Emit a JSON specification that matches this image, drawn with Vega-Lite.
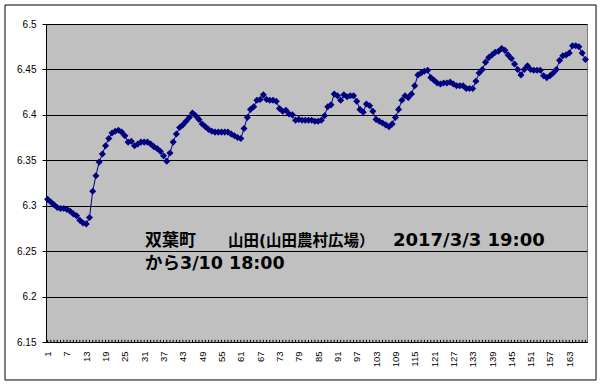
{
  "$schema": "https://vega.github.io/schema/vega-lite/v6.json",
  "width": 541,
  "height": 318,
  "autosize": {"type": "none"},
  "padding": {"left": 46, "top": 24, "right": 16, "bottom": 45},
  "background": "white",
  "config": {
    "view": {"fill": "#c0c0c0", "stroke": "#808080", "strokeWidth": 1},
    "axis": {"labelOverlap": false, "labelSeparation": 0, "labelBound": false}
  },
  "data": {"values": [
    {"i":1,"v":6.307},{"i":2,"v":6.304},{"i":3,"v":6.301},{"i":4,"v":6.298},{"i":5,"v":6.297},{"i":6,"v":6.297},{"i":7,"v":6.296},{"i":8,"v":6.294},{"i":9,"v":6.291},{"i":10,"v":6.289},
    {"i":11,"v":6.284},{"i":12,"v":6.281},{"i":13,"v":6.280},{"i":14,"v":6.287},{"i":15,"v":6.316},{"i":16,"v":6.333},{"i":17,"v":6.348},{"i":18,"v":6.357},{"i":19,"v":6.366},{"i":20,"v":6.374},
    {"i":21,"v":6.380},{"i":22,"v":6.382},{"i":23,"v":6.383},{"i":24,"v":6.381},{"i":25,"v":6.377},{"i":26,"v":6.370},{"i":27,"v":6.371},{"i":28,"v":6.366},{"i":29,"v":6.368},{"i":30,"v":6.370},
    {"i":31,"v":6.370},{"i":32,"v":6.370},{"i":33,"v":6.368},{"i":34,"v":6.365},{"i":35,"v":6.363},{"i":36,"v":6.360},{"i":37,"v":6.355},{"i":38,"v":6.349},{"i":39,"v":6.358},{"i":40,"v":6.370},
    {"i":41,"v":6.379},{"i":42,"v":6.386},{"i":43,"v":6.389},{"i":44,"v":6.393},{"i":45,"v":6.397},{"i":46,"v":6.402},{"i":47,"v":6.399},{"i":48,"v":6.395},{"i":49,"v":6.390},{"i":50,"v":6.387},
    {"i":51,"v":6.384},{"i":52,"v":6.382},{"i":53,"v":6.381},{"i":54,"v":6.381},{"i":55,"v":6.381},{"i":56,"v":6.381},{"i":57,"v":6.381},{"i":58,"v":6.379},{"i":59,"v":6.377},{"i":60,"v":6.375},
    {"i":61,"v":6.374},{"i":62,"v":6.385},{"i":63,"v":6.397},{"i":64,"v":6.406},{"i":65,"v":6.409},{"i":66,"v":6.416},{"i":67,"v":6.417},{"i":68,"v":6.422},{"i":69,"v":6.417},{"i":70,"v":6.416},
    {"i":71,"v":6.416},{"i":72,"v":6.415},{"i":73,"v":6.407},{"i":74,"v":6.404},{"i":75,"v":6.405},{"i":76,"v":6.401},{"i":77,"v":6.400},{"i":78,"v":6.394},{"i":79,"v":6.395},{"i":80,"v":6.394},
    {"i":81,"v":6.394},{"i":82,"v":6.394},{"i":83,"v":6.394},{"i":84,"v":6.393},{"i":85,"v":6.393},{"i":86,"v":6.394},{"i":87,"v":6.399},{"i":88,"v":6.409},{"i":89,"v":6.411},{"i":90,"v":6.423},
    {"i":91,"v":6.421},{"i":92,"v":6.416},{"i":93,"v":6.422},{"i":94,"v":6.420},{"i":95,"v":6.421},{"i":96,"v":6.421},{"i":97,"v":6.415},{"i":98,"v":6.406},{"i":99,"v":6.403},{"i":100,"v":6.412},
    {"i":101,"v":6.410},{"i":102,"v":6.404},{"i":103,"v":6.395},{"i":104,"v":6.393},{"i":105,"v":6.391},{"i":106,"v":6.389},{"i":107,"v":6.387},{"i":108,"v":6.390},{"i":109,"v":6.397},{"i":110,"v":6.406},
    {"i":111,"v":6.416},{"i":112,"v":6.421},{"i":113,"v":6.419},{"i":114,"v":6.423},{"i":115,"v":6.432},{"i":116,"v":6.444},{"i":117,"v":6.446},{"i":118,"v":6.448},{"i":119,"v":6.449},{"i":120,"v":6.441},
    {"i":121,"v":6.438},{"i":122,"v":6.435},{"i":123,"v":6.434},{"i":124,"v":6.435},{"i":125,"v":6.435},{"i":126,"v":6.436},{"i":127,"v":6.434},{"i":128,"v":6.432},{"i":129,"v":6.432},{"i":130,"v":6.432},
    {"i":131,"v":6.429},{"i":132,"v":6.429},{"i":133,"v":6.429},{"i":134,"v":6.437},{"i":135,"v":6.446},{"i":136,"v":6.450},{"i":137,"v":6.458},{"i":138,"v":6.463},{"i":139,"v":6.466},{"i":140,"v":6.469},
    {"i":141,"v":6.470},{"i":142,"v":6.473},{"i":143,"v":6.471},{"i":144,"v":6.466},{"i":145,"v":6.462},{"i":146,"v":6.456},{"i":147,"v":6.450},{"i":148,"v":6.444},{"i":149,"v":6.450},{"i":150,"v":6.454},
    {"i":151,"v":6.450},{"i":152,"v":6.449},{"i":153,"v":6.449},{"i":154,"v":6.449},{"i":155,"v":6.443},{"i":156,"v":6.441},{"i":157,"v":6.443},{"i":158,"v":6.446},{"i":159,"v":6.450},{"i":160,"v":6.460},
    {"i":161,"v":6.465},{"i":162,"v":6.466},{"i":163,"v":6.468},{"i":164,"v":6.476},{"i":165,"v":6.476},{"i":166,"v":6.475},{"i":167,"v":6.468},{"i":168,"v":6.461}
  ]},
  "layer": [
    {
      "data": {"values": [{}]},
      "mark": {"type": "rect", "fill": null, "filled": false, "stroke": "black", "strokeWidth": 1, "clip": false},
      "encoding": {
        "x": {"datum": -12.23, "type": "quantitative"},
        "x2": {"datum": 171.3},
        "y": {"datum": 6.5209, "type": "quantitative"},
        "y2": {"datum": 6.1082}
      }
    },
    {
      "mark": {"type": "line", "color": "#000080", "strokeWidth": 1},
      "encoding": {
        "x": {
          "field": "i", "type": "quantitative",
          "scale": {"domain": [0.5, 168.5], "nice": false, "zero": false},
          "axis": {
            "title": null,
            "values": [1,7,13,19,25,31,37,43,49,55,61,67,73,79,85,91,97,103,109,115,121,127,133,139,145,151,157,163],
            "tickCount": 200,
            "labelAngle": -90,
            "labelAlign": "right",
            "labelBaseline": "middle",
            "labelOverlap": false,
            "labelFlush": false,
            "labelFont": "Liberation Sans",
            "labelFontSize": 9.5,
            "labelColor": "black",
            "labelPadding": 9,
            "grid": false,
            "domainColor": "black",
            "domainWidth": 1,
            "ticks": false
          }
        },
        "y": {
          "field": "v", "type": "quantitative",
          "scale": {"domain": [6.15, 6.5], "nice": false, "zero": false},
          "axis": {
            "title": null,
            "values": [6.15, 6.2, 6.25, 6.3, 6.35, 6.4, 6.45, 6.5],
            "tickCount": 20,
            "format": ".3~g",
            "labelFont": "Liberation Sans",
            "labelFontSize": 10,
            "labelColor": "black",
            "labelPadding": 6,
            "grid": true,
            "gridColor": "black",
            "gridWidth": 1,
            "gridOpacity": 1,
            "domainColor": "black",
            "tickColor": "black",
            "tickSize": 4
          }
        }
      }
    },
    {
      "mark": {"type": "rule", "color": "black", "strokeWidth": 1},
      "encoding": {
        "x": {"field": "i", "type": "quantitative"},
        "y": {"datum": 6.15, "type": "quantitative"},
        "y2": {"datum": 6.1524}
      }
    },
    {
      "mark": {"type": "point", "shape": "diamond", "filled": true, "size": 50, "color": "#000080", "opacity": 1},
      "encoding": {
        "x": {"field": "i", "type": "quantitative"},
        "y": {"field": "v", "type": "quantitative"}
      }
    },
    {
      "data": {"values": [{}]},
      "mark": {"type": "text", "text": "双葉町", "font": "Noto Sans CJK JP", "fontWeight": "bold", "fontSize": 17, "color": "black", "align": "left", "baseline": "middle"},
      "encoding": {
        "x": {"datum": 31.24, "type": "quantitative"},
        "y": {"datum": 6.2612, "type": "quantitative"}
      }
    },
    {
      "data": {"values": [{}]},
      "mark": {"type": "text", "text": "山田(山田農村広場）", "font": "DejaVu Sans, Noto Sans CJK JP", "fontWeight": "bold", "fontSize": 15.5, "color": "black", "align": "left", "baseline": "middle"},
      "encoding": {
        "x": {"datum": 57.0, "type": "quantitative"},
        "y": {"datum": 6.2612, "type": "quantitative"}
      }
    },
    {
      "data": {"values": [{}]},
      "mark": {"type": "text", "text": "2017/3/3 19:00", "font": "DejaVu Sans", "fontWeight": "bold", "fontSize": 18, "color": "black", "align": "left", "baseline": "middle"},
      "encoding": {
        "x": {"datum": 108.26, "type": "quantitative"},
        "y": {"datum": 6.2612, "type": "quantitative"}
      }
    },
    {
      "data": {"values": [{}]},
      "mark": {"type": "text", "text": "から3/10 18:00", "font": "DejaVu Sans, Noto Sans CJK JP", "fontWeight": "bold", "fontSize": 17.5, "color": "black", "align": "left", "baseline": "middle"},
      "encoding": {
        "x": {"datum": 31.24, "type": "quantitative"},
        "y": {"datum": 6.2359, "type": "quantitative"}
      }
    }
  ]
}
